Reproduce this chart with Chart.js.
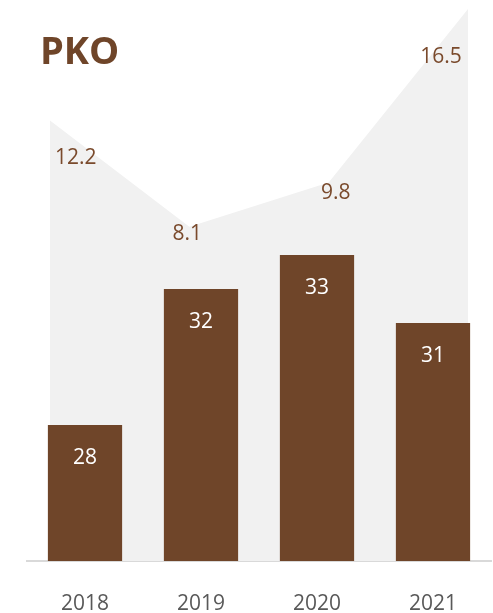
<!DOCTYPE html>
<html>
<head>
<meta charset="utf-8">
<script src="https://cdn.jsdelivr.net/npm/chart.js@4"></script>
<style>
  html, body { margin: 0; padding: 0; background: #fff; }
  canvas { display: block; }
</style>
</head>
<body>
<canvas id="chart" width="493" height="613"></canvas>
<script>
const years = ['2018', '2019', '2020', '2021'];
const barValues = [28, 32, 33, 31];
const areaValues = [12.2, 8.1, 9.8, 16.5];
const chartTitle = 'PKO';

const brown = '#6f4529';
const labelBrown = '#7a4a2c';

// label offsets under the area points (dx, dy, align)
const areaLabelPos = [[5, 38, 'left'], [-2, 7, 'center'], [7, 10, 'center'], [-27, 48, 'center']];

const labelPlugin = {
  id: 'labels',
  afterDatasetsDraw(chart) {
    const ctx = chart.ctx;
    ctx.save();
    ctx.font = '21px "Open Sans"';
    ctx.textBaseline = 'middle';

    // bar values, white, inside the top
    ctx.fillStyle = '#ffffff';
    ctx.textAlign = 'center';
    chart.getDatasetMeta(0).data.forEach((bar, i) => {
      ctx.fillText(barValues[i], bar.x, bar.y + 33);
    });

    // area values
    ctx.fillStyle = labelBrown;
    chart.getDatasetMeta(1).data.forEach((pt, i) => {
      const p = areaLabelPos[i];
      ctx.textAlign = p[2];
      ctx.fillText(areaValues[i], pt.x + p[0], pt.y + p[1]);
    });

    ctx.font = 'bold 38px "Open Sans"';
    ctx.fillStyle = brown;
    ctx.textAlign = 'left';
    ctx.fillText(chartTitle, 40, 53);
    ctx.restore();
  }
};

new Chart(document.getElementById('chart'), {
  data: {
    labels: years,
    datasets: [
      {
        type: 'bar',
        data: barValues,
        backgroundColor: brown,
        barPercentage: 0.64,
        categoryPercentage: 1,
        grouped: false,
        order: 1,
        xAxisID: 'x',
        yAxisID: 'y'
      },
      {
        type: 'line',
        data: areaValues.map((v, i) => ({ x: i, y: v })),
        backgroundColor: '#f1f1f1',
        borderWidth: 0,
        pointRadius: 0,
        tension: 0,
        fill: 'start',
        order: 2,
        xAxisID: 'x2',
        yAxisID: 'y2'
      }
    ]
  },
  options: {
    responsive: false,
    animation: false,
    layout: { padding: { left: 27, right: 2, top: 0, bottom: 0 } },
    plugins: {
      legend: { display: false },
      tooltip: { enabled: false }
    },
    scales: {
      x: {
        grid: { display: false },
        border: { display: true, color: '#d9d9d9', width: 2 },
        ticks: {
          color: '#595959',
          font: { family: 'Open Sans', size: 21 },
          padding: 22
        },
        afterFit(scale) { scale.height = 52; }
      },
      x2: { type: 'linear', display: false, min: -0.165, max: 3.165 },
      y: { display: false, min: 24, max: 40.5 },
      y2: { display: false, min: -4.81, max: 16.85 }
    }
  },
  plugins: [labelPlugin]
});
</script>
</body>
</html>
